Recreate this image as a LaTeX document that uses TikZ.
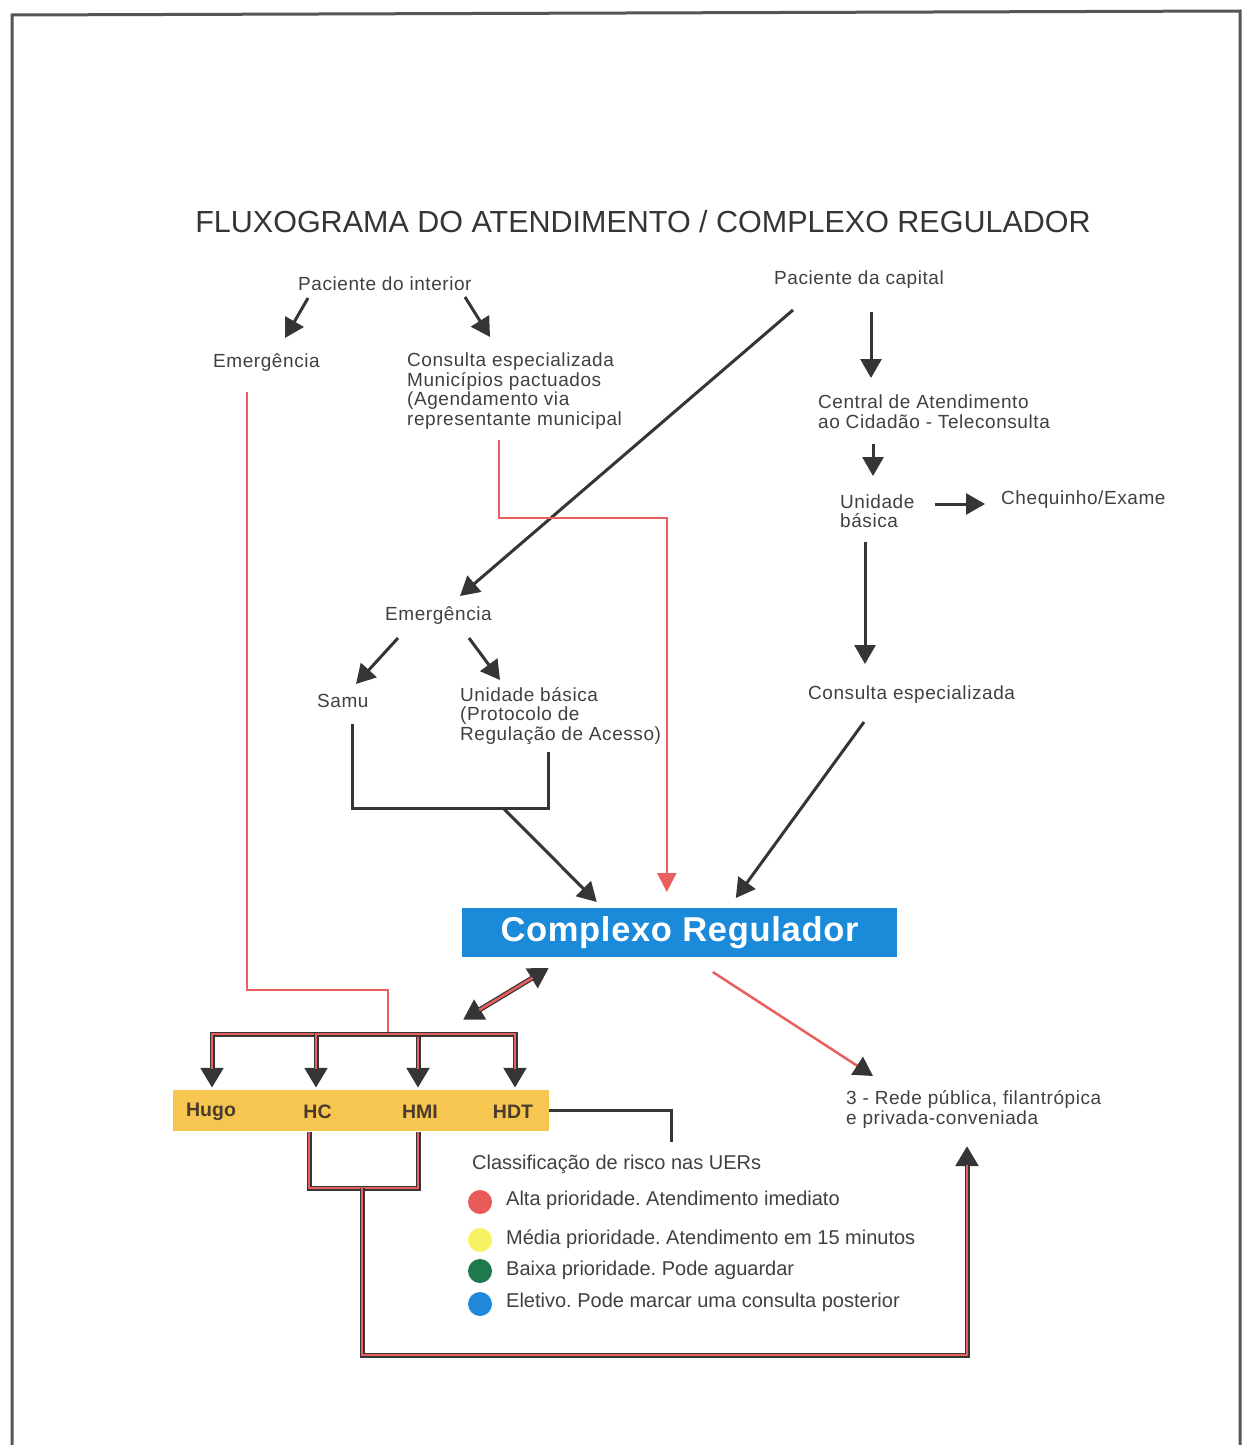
\documentclass[tikz,border=0pt]{standalone}
\usepackage{fontspec}
\setmainfont{Liberation Sans}
\newfontfamily\lsp[LetterSpace=3]{Liberation Sans}
\newfontfamily\crfont[LetterSpace=2]{Liberation Sans}
\usetikzlibrary{arrows.meta}
\frenchspacing
\definecolor{txt}{HTML}{404040}
\definecolor{ar}{HTML}{353535}
\definecolor{rl}{HTML}{E8605E}
\definecolor{crblue}{HTML}{1B8AD8}
\definecolor{hbarc}{HTML}{F6C650}
\definecolor{hlblc}{HTML}{4A3B2C}
\definecolor{frm}{HTML}{555555}
\definecolor{dred}{HTML}{E85A5A}
\definecolor{dyel}{HTML}{F5F262}
\definecolor{dgrn}{HTML}{1E7A4E}
\definecolor{dblu}{HTML}{1E88DA}
\begin{document}
\begin{tikzpicture}[x=1pt,y=-1pt,
  lbl/.style={font=\lsp\fontsize{19}{19.5}\selectfont, text=txt, inner sep=0pt, align=left, anchor=west},
  leg/.style={font=\fontsize{20}{21}\selectfont, text=txt, inner sep=0pt, anchor=west},
  ttl/.style={font=\fontsize{30.5}{32}\selectfont, text=ar, inner sep=0pt},
  hlbl/.style={font=\bfseries\fontsize{19.5}{20}\selectfont, text=hlblc, inner sep=0pt},
  dotn/.style={circle, minimum size=24pt, inner sep=0pt},
  tipk/.style={-{Triangle[length=19pt,width=21pt]}},
  arr/.style={draw=ar, line width=3pt, tipk},
  plain/.style={draw=ar, line width=3pt},
  redarr/.style={draw=rl, line width=2.5pt, -{Triangle[length=19pt,width=19pt]}},
  redline/.style={draw=rl, line width=2.5pt},
  redarrk/.style={draw=rl, line width=2.5pt, -{Triangle[length=19pt,width=21pt,color=ar,fill=ar]}},
  drline/.style={draw=ar, line width=5pt, postaction={draw=rl, line width=2.5pt}},
  drarr/.style={draw=ar, line width=5pt, -{Triangle[length=20pt,width=22pt]}, postaction={draw=rl, line width=2.5pt, -, shorten >=19pt}},
  drdbl/.style={draw=ar, line width=5pt, {Triangle[length=20pt,width=22pt]}-{Triangle[length=20pt,width=22pt]}, postaction={draw=rl, line width=2.5pt, -, shorten >=19pt, shorten <=19pt}}
]
\useasboundingbox (0,0) rectangle (1249,1445);
% frame
\draw[draw=frm, line width=3pt] (12,1450) -- (12,15) -- (1240,11) -- (1240,1450);

% title
\node[ttl] (title) at (643,222) {FLUXOGRAMA DO ATENDIMENTO / COMPLEXO REGULADOR};

% text nodes
\node[lbl] (pint) at (298,284) {Paciente do interior};
\node[lbl] (pcap) at (774,280) {Paciente da capital};
\node[lbl] (emg1) at (213,363) {Emergência};
\node[lbl] (cesp1) at (407,391) {Consulta especializada\\Municípios pactuados\\(Agendamento via\\representante municipal};
\node[lbl] (cac) at (818,411.5) {Central de Atendimento\\ao Cidadão - Teleconsulta};
\node[lbl] (ub1) at (840,511) {Unidade\\básica};
\node[lbl] (cheq) at (1001,500) {Chequinho/Exame};
\node[lbl] (emg2) at (385,616) {Emergência};
\node[lbl] (samu) at (317,701) {Samu};
\node[lbl] (ub2) at (460,716) {Unidade básica\\(Protocolo de\\Regulação de Acesso)};
\node[lbl] (cesp2) at (808,695) {Consulta especializada};

% Complexo Regulador
\node[fill=crblue, text=white, minimum width=435pt, minimum height=49pt, inner sep=0pt,
      font=\crfont\bfseries\fontsize{34.5}{36}\selectfont] (creg) at (679.5,932.5) {Complexo Regulador};

% hospital bar
\node[fill=hbarc, minimum width=376pt, minimum height=41pt, inner sep=0pt] (hbar) at (361,1110.5) {};
\node[hlbl] (hugo) at (211,1112) {Hugo};
\node[hlbl] (hc) at (317.5,1112) {HC};
\node[hlbl] (hmi) at (420,1112) {HMI};
\node[hlbl] (hdt) at (513,1112) {HDT};

\node[lbl] (rede) at (846,1109.5) {3 - Rede pública, filantrópica\\e privada-conveniada};

% legend
\node[leg] (classif) at (472,1164) {Classificação de risco nas UERs};
\node[dotn, fill=dred] (d1) at (480,1202) {};
\node[dotn, fill=dyel] (d2) at (480,1240) {};
\node[dotn, fill=dgrn] (d3) at (480,1271) {};
\node[dotn, fill=dblu] (d4) at (480,1304) {};
\node[leg] (l1) at (506,1200) {Alta prioridade. Atendimento imediato};
\node[leg] (l2) at (506,1239) {Média prioridade. Atendimento em 15 minutos};
\node[leg] (l3) at (506,1270) {Baixa prioridade. Pode aguardar};
\node[leg] (l4) at (506,1302) {Eletivo. Pode marcar uma consulta posterior};

% distribution junction
\coordinate (dist) at (388,1034);

% black arrows
\draw[arr] ([shift={(10,14)}]pint.west) -- ([shift={(72,-25)}]emg1.west);
\draw[arr] ([shift={(167,13)}]pint.west) -- ([shift={(83,-54)}]cesp1.west);
\draw[arr] ([shift={(19,30)}]pcap.west) -- ([shift={(75,-20)}]emg2.west);
\draw[arr] ([shift={(97,32)}]pcap.west) -- ([shift={(53,-33.5)}]cac.west);
\draw[arr] ([shift={(55,32.5)}]cac.west) -- ([shift={(33,-35)}]ub1.west);
\draw[arr] ([shift={(95,-7)}]ub1.west) -- ([shift={(-16,4)}]cheq.west);
\draw[arr] ([shift={(25,31)}]ub1.west) -- ([shift={(57,-31)}]cesp2.west);
\draw[arr] ([shift={(13,22)}]emg2.west) -- ([shift={(39,-17)}]samu.west);
\draw[arr] ([shift={(84,22)}]emg2.west) -- ([shift={(40,-36)}]ub2.west);

% Samu / Unidade bracket to Complexo
\draw[plain] ([shift={(35,23)}]samu.west) |- ([shift={(88,92)}]ub2.west) -- ([shift={(88,36)}]ub2.west);
\coordinate (jn1) at (503,808);
\draw[arr] (jn1) -- ([shift={(135,-30.5)}]creg.west);

% Consulta especializada -> Complexo
\draw[arr] ([shift={(56,27)}]cesp2.west) -- ([shift={(274,-34.5)}]creg.west);

% red paths
\draw[redarr] ([shift={(92,49)}]cesp1.west) |- ([shift={(205,-414.5)}]creg.west) -- ([shift={(205,-40.5)}]creg.west);
\draw[redline] ([shift={(34,29)}]emg1.west) |- ([shift={(0,-44)}]dist) -- (dist);

% distribution to hospitals
\draw[drarr] (dist) -| ([shift={(-149,-2)}]hbar.north);
\draw[drarr] (dist) -| ([shift={(-45,-2)}]hbar.north);
\draw[drarr] (dist) -| ([shift={(57,-2)}]hbar.north);
\draw[drarr] (dist) -| ([shift={(154,-2)}]hbar.north);

% double arrow Complexo <-> hospitals
\draw[drdbl] ([shift={(102,-70)}]hbar.north) -- ([shift={(87,35.5)}]creg.west);

% Complexo -> Rede
\draw[redarrk] ([shift={(251,39.5)}]creg.west) -- ([shift={(27,-33.5)}]rede.west);

% HC / HMI bracket to Rede
\draw[drline] ([shift={(-52,1)}]hbar.south) |- ([shift={(57,57)}]hbar.south) -- ([shift={(57,1)}]hbar.south);
\draw[drarr] ([shift={(1,57)}]hbar.south) |- ([shift={(121,245.5)}]rede.west) -- ([shift={(121,36.5)}]rede.west);

% HDT connector
\draw[plain] (hbar.east) -| ([shift={(199,-22)}]classif.west);
\end{tikzpicture}
\end{document}
